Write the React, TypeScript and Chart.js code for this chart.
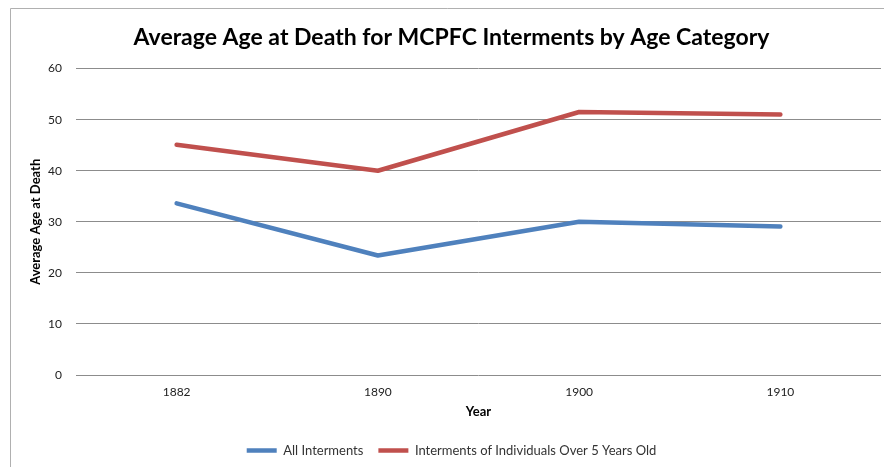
import React, { useEffect, useRef } from "react";
import { Chart, registerables } from "chart.js";

Chart.register(...registerables);

const years = ["1882", "1890", "1900", "1910"];
const allInterments = [33.6, 23.4, 30.0, 29.1];
const over5 = [45.1, 40.0, 51.5, 51.0];
const seriesNames = ["All Interments", "Interments of Individuals Over 5 Years Old"];
const titleText = "Average Age at Death for MCPFC Interments by Age Category";

const FONT = "Lato, 'Open Sans', sans-serif";

const framePlugin = {
  id: "frame",
  beforeDraw(chart: any) {
    const ctx = chart.ctx;
    ctx.save();
    ctx.fillStyle = "#ffffff";
    ctx.fillRect(0, 0, chart.width, chart.height);
    ctx.strokeStyle = "#b0b0b0";
    ctx.lineWidth = 1;
    ctx.beginPath();
    ctx.moveTo(10.5, chart.height);
    ctx.lineTo(10.5, 8.5);
    ctx.lineTo(chart.width, 8.5);
    ctx.stroke();
    ctx.restore();
  },
};

export default function App() {
  const ref = useRef<HTMLCanvasElement>(null);
  useEffect(() => {
    if (!ref.current) return;
    const chart = new Chart(ref.current, {
      type: "line",
      data: {
        labels: years,
        datasets: [
          {
            label: seriesNames[0],
            data: allInterments,
            borderColor: "#4F81BD",
            backgroundColor: "#4F81BD",
            borderWidth: 4.5,
            pointRadius: 0,
            borderCapStyle: "round",
            borderJoinStyle: "round",
            tension: 0,
          },
          {
            label: seriesNames[1],
            data: over5,
            borderColor: "#C0504D",
            backgroundColor: "#C0504D",
            borderWidth: 4.5,
            pointRadius: 0,
            borderCapStyle: "round",
            borderJoinStyle: "round",
            tension: 0,
          },
        ],
      },
      options: {
        animation: false,
        responsive: false,
        layout: { padding: { left: 22, right: 3, top: 14, bottom: 0 } },
        plugins: {
          title: {
            display: true,
            text: titleText,
            color: "#000000",
            font: { family: FONT, size: 23, weight: "bold" },
            padding: { top: 10, bottom: 17 },
          },
          legend: {
            position: "bottom",
            labels: {
              usePointStyle: true,
              pointStyle: "line",
              pointStyleWidth: 30,
              color: "#333333",
              font: { family: FONT, size: 13 },
              padding: 15,
            },
          },
          tooltip: { enabled: false },
        },
        scales: {
          x: {
            offset: true,
            grid: { display: false, drawTicks: false },
            border: { display: false },
            ticks: { color: "#222222", font: { family: FONT, size: 12 }, padding: 10 },
            title: {
              display: true,
              text: "Year",
              color: "#000000",
              font: { family: FONT, size: 13, weight: "bold" },
              padding: { top: 0, bottom: 9 },
            },
            afterFit: (s: any) => {
              s.height = 54;
            },
          },
          y: {
            min: 0,
            max: 60,
            ticks: { stepSize: 10, color: "#222222", font: { family: FONT, size: 12 }, padding: 14 },
            grid: { color: "#8c8c8c", drawTicks: false, lineWidth: 1 },
            border: { display: false },
            title: {
              display: true,
              text: "Average Age at Death",
              color: "#000000",
              font: { family: FONT, size: 13, weight: "bold" },
              padding: { top: 6, bottom: 4 },
            },
            afterFit: (s: any) => {
              s.width = 54;
            },
          },
        },
      },
      plugins: [framePlugin],
    } as any);
    return () => chart.destroy();
  }, []);
  return (
    <div style={{ position: "fixed", left: 0, top: 0, width: 884, height: 467, overflow: "hidden", background: "#fff" }}>
      <canvas ref={ref} width={884} height={467} style={{ display: "block" }} />
    </div>
  );
}
